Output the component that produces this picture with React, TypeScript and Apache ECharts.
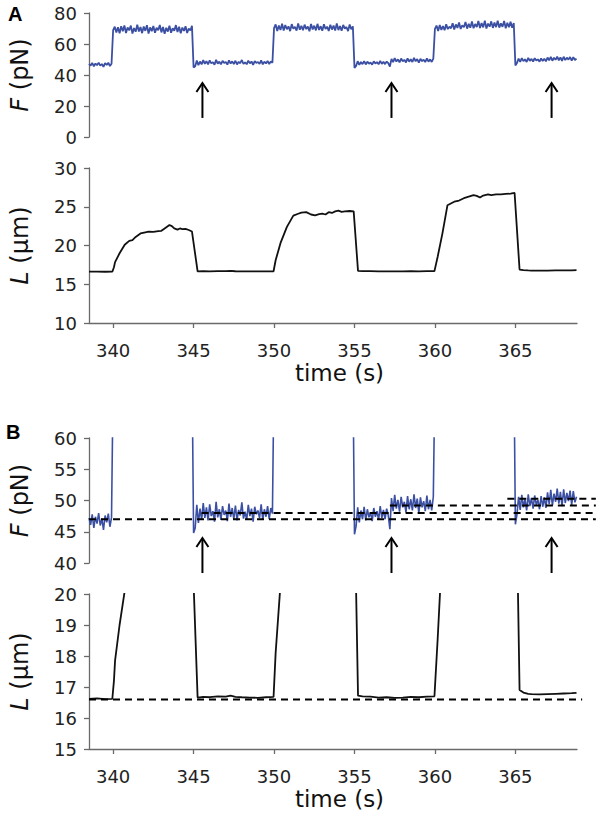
import { useEffect, useRef } from 'react';
import * as echarts from 'echarts';

const FONT = '"DejaVu Sans", sans-serif';
const BLUE = '#3b50a3';

// Force F (pN), sampled every 0.1 s starting at 338.5 s
const T0 = 338.5;
const DT = 0.1;
const fLow1 = [47.2, 46.1, 47.8, 45.6, 47.4, 46.3, 48.0, 46.0, 47.1, 45.3, 47.6, 46.5, 47.9, 45.8, 47.3];
const fHigh1 = [
  69.0, 71.2, 67.4, 70.8, 66.9, 71.5, 68.2, 72.0, 67.1, 70.6,
  68.8, 71.9, 66.7, 70.3, 67.9, 72.4, 68.1, 70.9, 67.0, 71.3,
  68.5, 72.1, 66.8, 70.7, 68.3, 71.6, 67.2, 70.4, 68.9, 72.3,
  67.5, 71.0, 66.6, 70.5, 68.0, 71.8, 67.3, 70.2, 68.6, 72.2,
  67.7, 71.1, 66.9, 70.6, 68.4, 71.4, 67.1, 70.0, 68.7, 71.7,
];
const fLow2 = [
  44.8, 45.6, 49.3, 46.4, 48.7, 46.9, 49.6, 47.2, 48.9, 46.8,
  49.4, 47.5, 48.3, 46.6, 49.8, 47.3, 48.6, 46.9, 49.1, 47.7,
  48.4, 46.7, 49.5, 47.4, 48.8, 47.0, 49.2, 46.8, 48.5, 47.6,
  49.7, 47.1, 48.2, 46.9, 49.3, 47.5, 48.7, 46.6, 49.0, 47.8,
  48.4, 47.2, 49.4, 46.9, 48.6, 47.4, 49.1, 47.0, 48.8, 47.9,
];
const fHigh2 = [
  70.2, 72.6, 68.4, 71.9, 69.0, 73.1, 68.7, 72.2, 69.5, 71.4,
  68.3, 72.8, 69.8, 71.1, 68.6, 73.3, 69.2, 71.7, 68.9, 72.5,
  69.6, 71.3, 68.2, 72.9, 69.4, 71.8, 68.8, 73.0, 69.1, 71.5,
  68.5, 72.7, 69.7, 71.2, 68.4, 72.4, 69.3, 71.9, 68.7, 73.2,
  69.0, 71.6, 68.6, 72.3, 69.9, 71.0, 68.3, 72.6, 69.5, 71.4,
];
const fLow3 = [
  44.6, 45.9, 48.9, 46.5, 48.4, 47.0, 49.0, 46.8, 48.6, 47.3,
  48.1, 46.7, 48.8, 47.4, 48.3, 46.9, 49.1, 47.2, 48.5, 47.0, 48.7, 47.6,
  45.4,
  50.4, 48.3, 50.9, 48.7, 50.1, 48.2, 50.6, 48.9, 49.8, 48.1,
  50.7, 48.6, 50.2, 48.4, 51.0, 48.8, 50.3, 48.0, 50.5, 48.9,
  49.9, 48.3, 50.8, 48.6, 50.1, 48.4, 50.6,
];
const fHigh3 = [
  69.8, 71.9, 68.4, 72.3, 69.1, 71.6, 68.9, 72.8, 69.6, 71.2,
  70.1, 73.4, 69.3, 72.6, 70.4, 73.9, 69.7, 72.1, 70.8, 74.2,
  69.9, 73.0, 70.5, 74.5, 70.2, 72.9, 71.0, 74.8, 70.3, 73.5,
  70.7, 75.1, 70.0, 73.2, 71.2, 74.6, 70.4, 73.8, 70.9, 75.0,
  70.6, 73.3, 71.1, 74.9, 70.2, 73.7, 70.8, 74.4, 70.5, 73.6,
];
const fLow4 = [
  46.2,
  47.8, 50.6, 48.5, 50.9, 48.9, 50.2, 48.4, 51.0, 49.1, 50.4,
  48.7, 50.8, 49.3, 50.1, 48.6, 50.7, 49.0, 50.5, 48.8,
  51.3, 49.4, 51.7, 49.2, 51.1, 49.8, 51.9, 49.5, 51.4, 49.1,
  51.8, 49.6, 51.2, 49.9, 51.6, 49.3, 51.5, 49.7, 50.6,
];

// Length L (µm): [time s, L]
const lData: [number, number][] = [
  [338.5, 16.62], [339.0, 16.63], [339.5, 16.61], [339.95, 16.62],
  [340.05, 17.2], [340.12, 17.85], [340.4, 19.0], [340.72, 20.1], [341.0, 20.6], [341.2, 20.7],
  [341.4, 21.1], [341.7, 21.55], [342.0, 21.7], [342.2, 21.8], [342.5, 21.75], [342.8, 21.85],
  [343.0, 21.9], [343.2, 22.2], [343.5, 22.65], [343.65, 22.5], [343.8, 22.2], [344.0, 22.05],
  [344.15, 22.2], [344.3, 22.1], [344.5, 22.15], [344.7, 22.0], [344.9, 21.8],
  [345.25, 16.66], [345.6, 16.68], [346.0, 16.67], [346.5, 16.7], [347.0, 16.69], [347.3, 16.72],
  [347.6, 16.68], [348.0, 16.67], [348.5, 16.66], [349.0, 16.65], [349.5, 16.67], [349.97, 16.68],
  [350.1, 18.1], [350.4, 20.3], [350.8, 22.4], [351.2, 23.85], [351.5, 24.1], [351.7, 24.25],
  [352.0, 24.3], [352.3, 24.0], [352.55, 23.9], [352.8, 24.05], [353.0, 24.1], [353.2, 24.0],
  [353.4, 24.3], [353.6, 24.2], [353.8, 24.4], [354.0, 24.5], [354.2, 24.35], [354.4, 24.4],
  [354.7, 24.45], [354.95, 24.4],
  [355.22, 16.72], [355.5, 16.7], [356.0, 16.69], [356.5, 16.66], [357.0, 16.67], [357.5, 16.65],
  [358.0, 16.66], [358.5, 16.68], [359.0, 16.67], [359.5, 16.69], [359.97, 16.7],
  [360.17, 18.55], [360.47, 21.6], [360.78, 25.2], [361.2, 25.65], [361.5, 25.8], [361.8, 26.1],
  [362.1, 26.3], [362.4, 26.5], [362.6, 26.4], [362.8, 26.2], [363.0, 26.45], [363.3, 26.6],
  [363.5, 26.5], [363.8, 26.6], [364.1, 26.6], [364.4, 26.65], [364.7, 26.7], [364.95, 26.8],
  [365.26, 16.9], [365.5, 16.82], [365.8, 16.78], [366.0, 16.77], [366.5, 16.76], [367.0, 16.77],
  [367.5, 16.78], [368.0, 16.79], [368.5, 16.8], [368.8, 16.81],
];

const xTicks = [340, 345, 350, 355, 360, 365];
const X_MIN = 338.5;
const X_MAX = 368.83;

// Arrows (time) and their extents in each F panel
const arrowTimes = [345.55, 357.3, 367.25];
const arrowA = [34.8, 12.3]; // tip, base (pN) in panel A
const arrowB = [44.0, 38.4]; // tip, base (pN) in panel B

// Dashed reference levels in panel B
const fDashLevels = [47, 48, 49.2, 50.3];
const fDashStarts = [338.5, 345.5, 357.2, 364.5];
const fDashEnd = 370.0;
const lDashLevel = 16.6;
const lDashEnd = 369.15;

const fAll = [...fLow1, ...fHigh1, ...fLow2, ...fHigh2, ...fLow3, ...fHigh3, ...fLow4];
const fData = fAll.map((v, i) => [Number((T0 + DT * i).toFixed(2)), v]);

const axisColor = '#6a6a6a';
const yBase = (min: number, max: number, interval: number, name: string, gi: number) => ({
  type: 'value',
  gridIndex: gi,
  min,
  max,
  interval,
  axisLine: { show: true, lineStyle: { color: axisColor, width: 1.3 } },
  axisTick: { show: true, length: 5, lineStyle: { color: axisColor, width: 1.3 } },
  axisLabel: { color: '#222', fontSize: 18, fontFamily: FONT, margin: 12 },
  splitLine: { show: false },
  name,
  nameLocation: 'middle',
  nameGap: 57,
  nameTextStyle: {
    fontSize: 24,
    fontFamily: FONT,
    color: '#111',
    rich: { i: { fontSize: 24, fontFamily: FONT, fontStyle: 'italic', color: '#111' } },
  },
});

const xBase = (gi: number, show: boolean) => ({
  type: 'value',
  gridIndex: gi,
  min: X_MIN,
  max: X_MAX,
  show,
  axisLine: { show: true, onZero: false, lineStyle: { color: axisColor, width: 1.3 } },
  axisTick: { show: true, length: 5, customValues: xTicks, lineStyle: { color: axisColor, width: 1.3 } },
  axisLabel: { color: '#222', fontSize: 18, fontFamily: FONT, margin: 18, customValues: xTicks },
  splitLine: { show: false },
  name: 'time (s)',
  nameLocation: 'middle',
  nameGap: 38,
  nameTextStyle: { fontSize: 23, fontFamily: FONT, color: '#111', padding: [0, 0, 0, 13] },
});

const option = {
  animation: false,
  backgroundColor: '#fff',
  grid: [
    { left: 86, top: 13, width: 491, height: 124 },
    { left: 86, top: 168, width: 491, height: 155 },
    { left: 86, top: 438, width: 491, height: 125 },
    { left: 86, top: 594, width: 491, height: 155 },
  ],
  xAxis: [xBase(0, false), xBase(1, true), xBase(2, false), xBase(3, true)],
  yAxis: [
    yBase(0, 80, 20, '{i|F} (pN)', 0),
    yBase(10, 30, 5, '{i|L} (µm)', 1),
    yBase(40, 60, 5, '{i|F} (pN)', 2),
    yBase(15, 20, 1, '{i|L} (µm)', 3),
  ],
  series: [
    { type: 'line', xAxisIndex: 0, yAxisIndex: 0, data: fData, showSymbol: false, symbol: 'none', silent: true, lineStyle: { color: BLUE, width: 1.8 } },
    { type: 'line', xAxisIndex: 1, yAxisIndex: 1, data: lData, showSymbol: false, symbol: 'none', silent: true, lineStyle: { color: '#111', width: 1.8 } },
    { type: 'line', xAxisIndex: 2, yAxisIndex: 2, data: fData, showSymbol: false, symbol: 'none', silent: true, lineStyle: { color: BLUE, width: 1.6 } },
    { type: 'line', xAxisIndex: 3, yAxisIndex: 3, data: lData, showSymbol: false, symbol: 'none', silent: true, lineStyle: { color: '#111', width: 1.8 } },
  ],
};

export default function App() {
  const ref = useRef<HTMLDivElement>(null);
  useEffect(() => {
    const chart = echarts.init(ref.current!, null, { renderer: 'svg' });
    chart.setOption(option as any);
    const px = (g: number, t: number, v: number) =>
      chart.convertToPixel({ gridIndex: g } as any, [t, v]) as number[];
    const graphics: any[] = [];
    graphics.push({ type: 'text', left: 8, top: 4, z: 100, style: { text: 'A', font: 'bold 20px "Liberation Sans", Arial, sans-serif', fill: '#000' } });
    graphics.push({ type: 'text', left: 6, top: 422, z: 100, style: { text: 'B', font: 'bold 20px "Liberation Sans", Arial, sans-serif', fill: '#000' } });
    const arrow = (g: number, t: number, tipV: number, baseV: number) => {
      const [tx, ty] = px(g, t, tipV);
      const [, by] = px(g, t, baseV);
      graphics.push({ type: 'line', z: 100, shape: { x1: tx, y1: ty + 1, x2: tx, y2: by }, style: { stroke: '#000', lineWidth: 2 } });
      graphics.push({ type: 'polyline', z: 100, shape: { points: [[tx - 6, ty + 9], [tx, ty], [tx + 6, ty + 9]] }, style: { stroke: '#000', lineWidth: 2, fill: null } });
    };
    arrowTimes.forEach((t) => {
      arrow(0, t, arrowA[0], arrowA[1]);
      arrow(2, t, arrowB[0], arrowB[1]);
    });
    const dash = { stroke: '#000', lineWidth: 2, lineDash: [7, 5] };
    fDashLevels.forEach((lv, i) => {
      const [x1, y1] = px(2, fDashStarts[i], lv);
      const [x2] = px(2, fDashEnd, lv);
      graphics.push({ type: 'line', z: 100, shape: { x1, y1, x2, y2: y1 }, style: dash });
    });
    {
      const [x1, y1] = px(3, X_MIN, lDashLevel);
      const [x2] = px(3, lDashEnd, lDashLevel);
      graphics.push({ type: 'line', z: 100, shape: { x1, y1, x2, y2: y1 }, style: dash });
    }
    chart.setOption({ graphic: graphics });
    return () => chart.dispose();
  }, []);
  return <div ref={ref} style={{ position: 'absolute', left: 0, top: 0, width: 600, height: 823 }} />;
}
